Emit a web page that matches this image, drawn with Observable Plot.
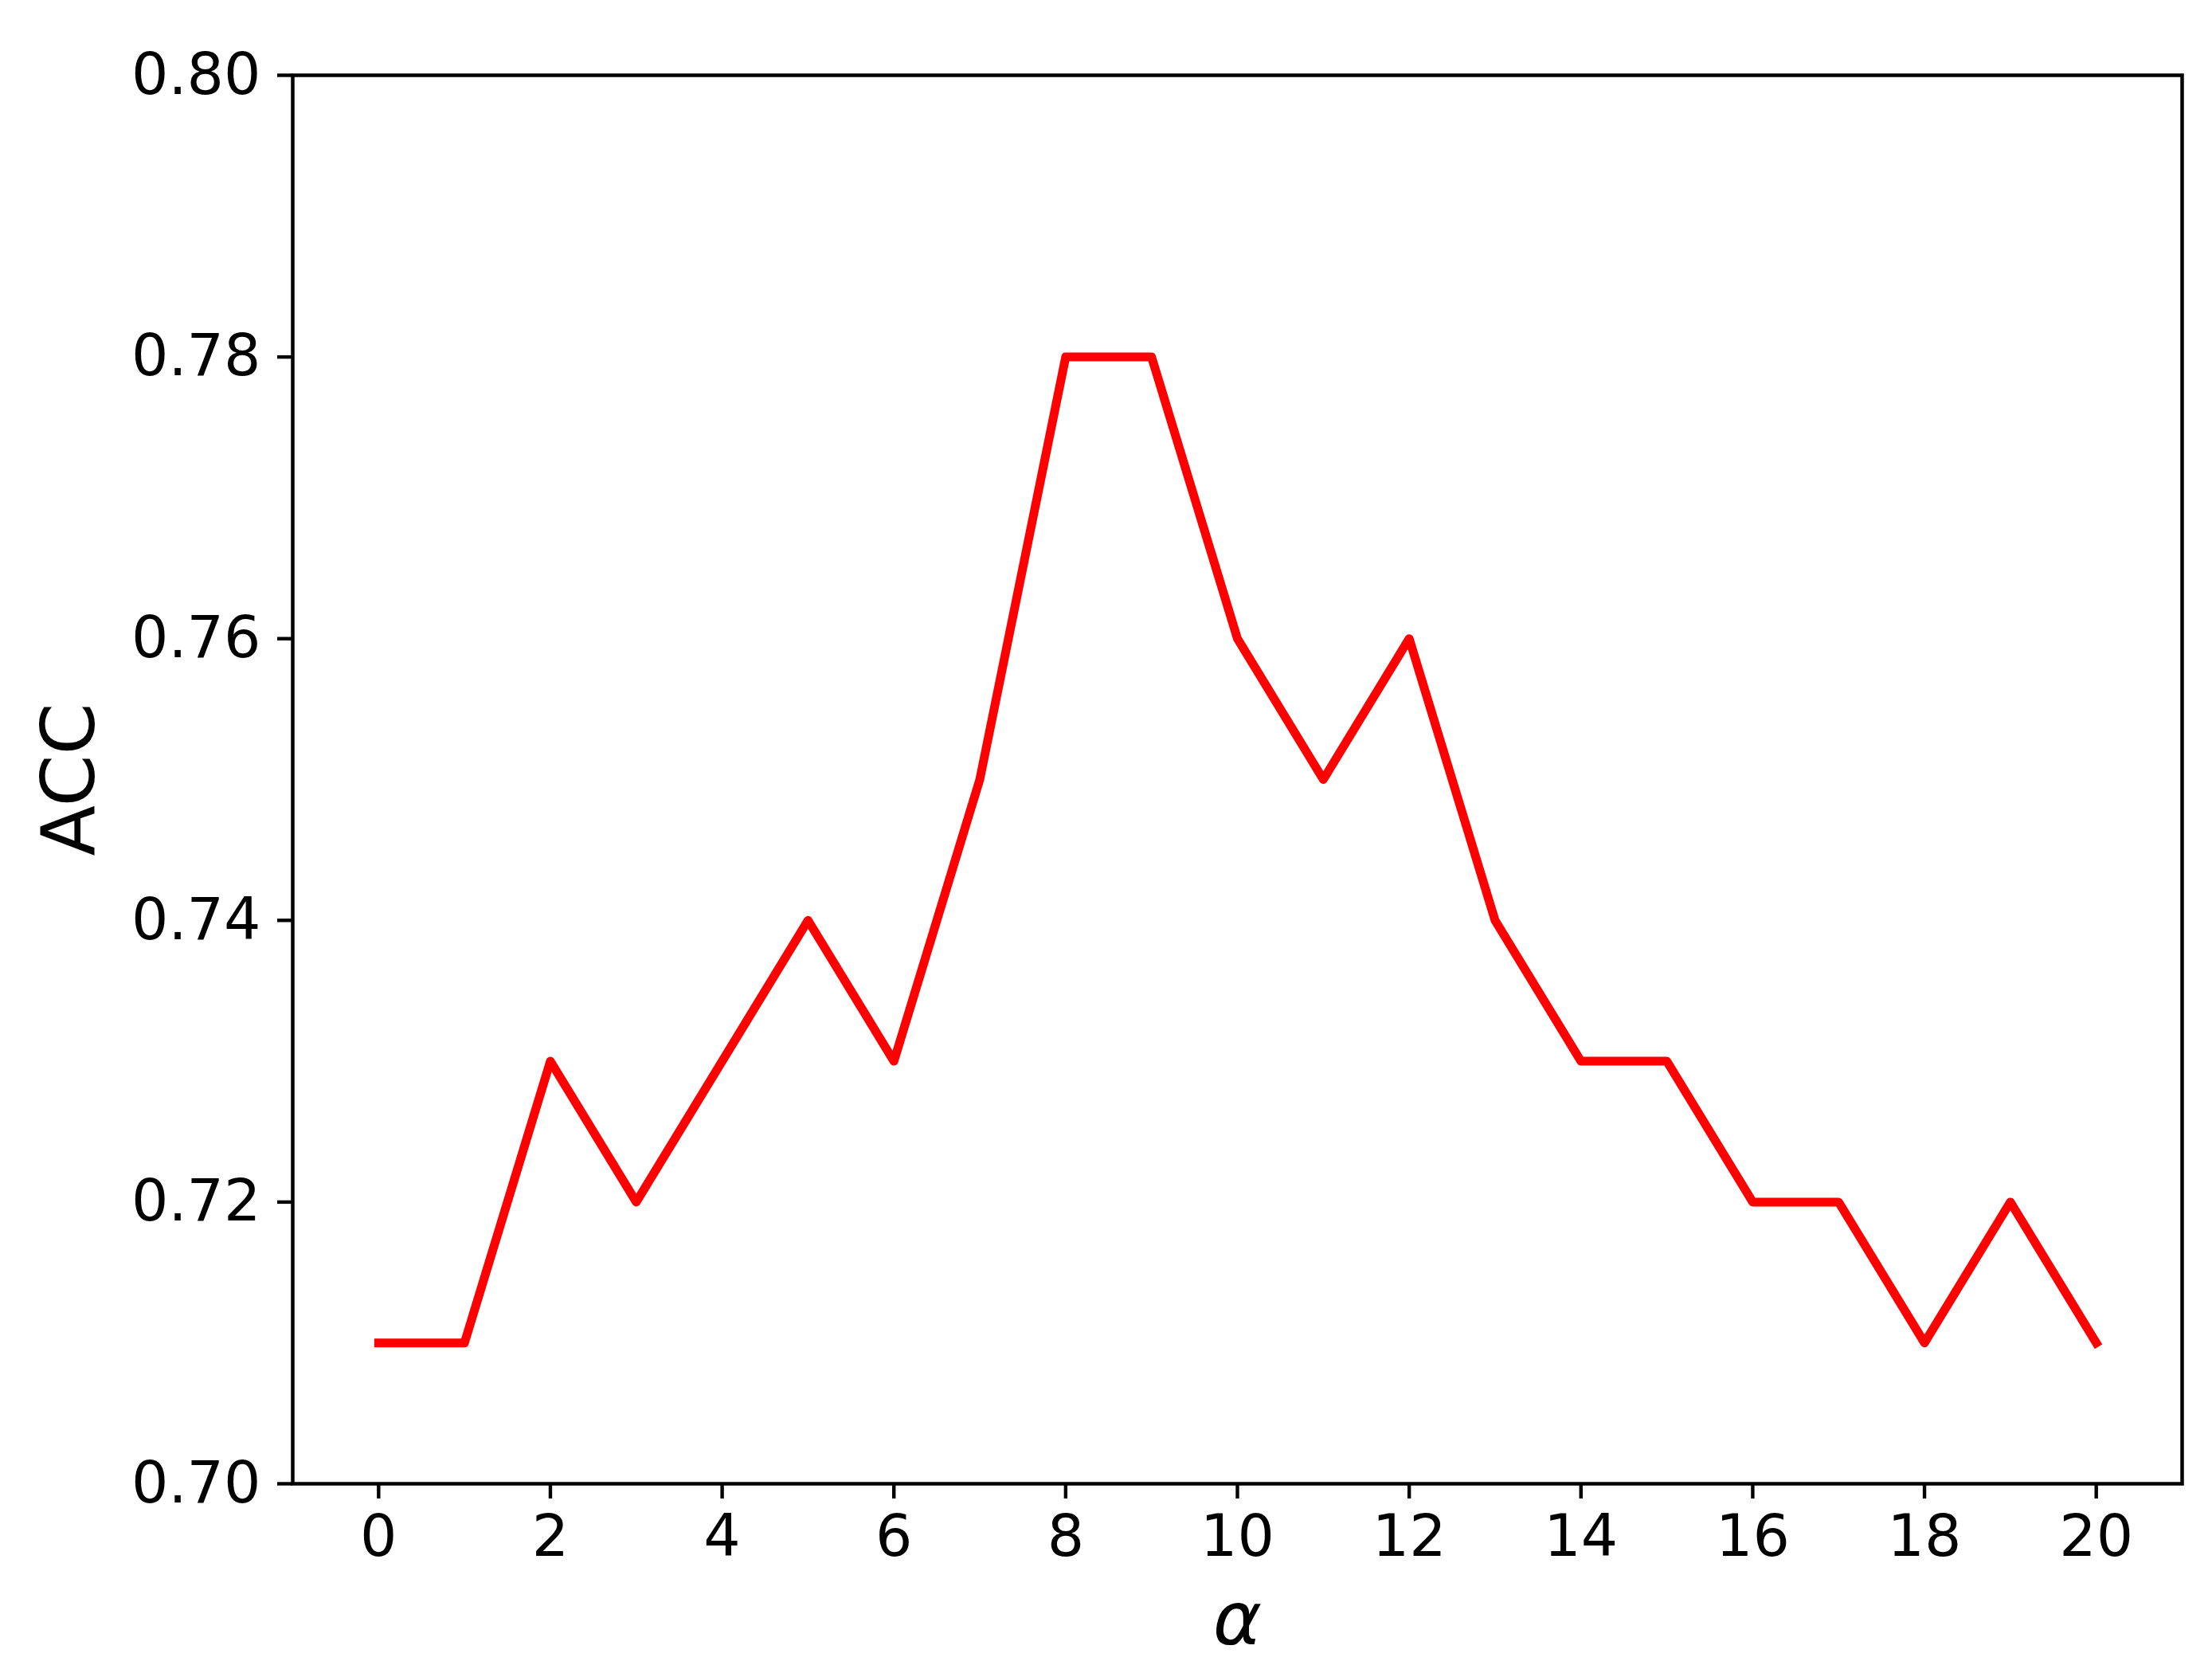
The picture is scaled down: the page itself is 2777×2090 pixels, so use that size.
<!DOCTYPE html>
<html>
<head>
<meta charset="utf-8">
<script src="https://cdn.jsdelivr.net/npm/d3@7"></script>
<script src="https://cdn.jsdelivr.net/npm/@observablehq/plot@0.6"></script>
<style>
  html, body { margin: 0; padding: 0; background: #fff; }
  #chart svg { display: block; }
</style>
</head>
<body>
<div id="chart"></div>
<script>
const alphas = [0, 1, 2, 3, 4, 5, 6, 7, 8, 9, 10, 11, 12, 13, 14, 15, 16, 17, 18, 19, 20];
const acc = [0.71, 0.71, 0.73, 0.72, 0.73, 0.74, 0.73, 0.75, 0.78, 0.78, 0.76, 0.75, 0.76, 0.74, 0.73, 0.73, 0.72, 0.72, 0.71, 0.72, 0.71];
const xTicks = [0, 2, 4, 6, 8, 10, 12, 14, 16, 18, 20];
const yTicks = [0.70, 0.72, 0.74, 0.76, 0.78, 0.80];
const yTickLabels = ["0.70", "0.72", "0.74", "0.76", "0.78", "0.80"];
const xLabel = "α";
const yLabel = "ACC";

const data = alphas.map((a, i) => ({alpha: a, acc: acc[i]}));

const chart = Plot.plot({
  width: 2777,
  height: 2090,
  marginLeft: 367,
  marginRight: 38,
  marginTop: 94,
  marginBottom: 228,
  style: {fontFamily: "DejaVu Sans", background: "#fff", color: "#000"},
  x: {domain: [-1, 21]},
  y: {domain: [0.70, 0.80]},
  marks: [
    Plot.line(data, {x: "alpha", y: "acc", stroke: "#ff0000", strokeWidth: 11, strokeLinejoin: "round", strokeLinecap: "square"}),
    Plot.frame({stroke: "#000", strokeWidth: 4.5}),
    Plot.axisX({ticks: xTicks, tickSize: 19, tickPadding: 20, fontSize: 73, strokeWidth: 4.4, label: null, tickFormat: d => String(d)}),
    Plot.axisY({ticks: yTicks, tickSize: 19, tickPadding: 21, fontSize: 73, strokeWidth: 4.4, label: null, tickFormat: d => yTickLabels[yTicks.indexOf(d)] ?? d.toFixed(2)}),
    Plot.text([yLabel], {frameAnchor: "left", dx: -279, rotate: -90, fontSize: 93, textAnchor: "middle", lineAnchor: "middle", text: d => d}),
    Plot.text([xLabel], {frameAnchor: "bottom", dy: 172, fontSize: 93, fontStyle: "italic", textAnchor: "middle", lineAnchor: "middle", text: d => d})
  ]
});
document.getElementById("chart").appendChild(chart);
</script>
</body>
</html>
